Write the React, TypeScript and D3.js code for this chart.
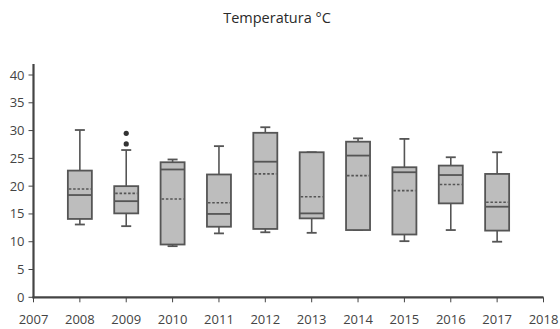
import React from "react";
import * as d3 from "d3";

const years = [2008, 2009, 2010, 2011, 2012, 2013, 2014, 2015, 2016, 2017];
const whiskerLow = [13.1, 12.8, 9.2, 11.5, 11.7, 11.6, 12.1, 10.1, 12.1, 10.0];
const q1 = [14.1, 15.1, 9.5, 12.7, 12.3, 14.2, 12.1, 11.3, 16.9, 12.0];
const median = [18.4, 17.3, 23.0, 15.0, 24.4, 15.1, 25.5, 22.5, 22.0, 16.3];
const mean = [19.5, 18.7, 17.7, 17.0, 22.2, 18.1, 21.9, 19.2, 20.3, 17.1];
const q3 = [22.8, 20.0, 24.3, 22.1, 29.6, 26.1, 28.0, 23.4, 23.7, 22.2];
const whiskerHigh = [30.1, 26.5, 24.8, 27.2, 30.6, 26.1, 28.6, 28.5, 25.2, 26.1];
const outlierYears = [2009, 2009];
const outlierValues = [29.5, 27.6];
const xTicks = [2007, 2008, 2009, 2010, 2011, 2012, 2013, 2014, 2015, 2016, 2017, 2018];
const yTicks = [0, 5, 10, 15, 20, 25, 30, 35, 40];
const title = "Temperatura °C";

const W = 560;
const H = 329;
const FONT = "'Open Sans', 'DejaVu Sans', sans-serif";

export default function App() {
  const x = d3.scaleLinear().domain([2007, 2018]).range([33.5, 543.5]);
  const y = d3.scaleLinear().domain([0, 40]).range([297.3, 75]);
  const boxW = 24;
  const capW = 10;
  const axisColor = "#444";
  const boxStroke = "#555";
  const fill = "#bdbdbd";

  return (
    <svg
      width={W}
      height={H}
      style={{ position: "absolute", left: 0, top: 0, background: "#fff" }}
    >
      <text
        x={277}
        y={23}
        textAnchor="middle"
        fontFamily={FONT}
        fontSize={14.5}
        fill="#2a2a2a"
      >
        {title}
      </text>

      {years.map((yr, i) => {
        const cx = x(yr);
        return (
          <g key={yr}>
            <line x1={cx} x2={cx} y1={y(whiskerHigh[i])} y2={y(q3[i])} stroke={boxStroke} strokeWidth={1.6} />
            <line x1={cx} x2={cx} y1={y(q1[i])} y2={y(whiskerLow[i])} stroke={boxStroke} strokeWidth={1.6} />
            <line x1={cx - capW / 2} x2={cx + capW / 2} y1={y(whiskerHigh[i])} y2={y(whiskerHigh[i])} stroke={boxStroke} strokeWidth={1.8} />
            <line x1={cx - capW / 2} x2={cx + capW / 2} y1={y(whiskerLow[i])} y2={y(whiskerLow[i])} stroke={boxStroke} strokeWidth={1.8} />
            <rect
              x={cx - boxW / 2}
              y={y(q3[i])}
              width={boxW}
              height={y(q1[i]) - y(q3[i])}
              fill={fill}
              stroke={boxStroke}
              strokeWidth={1.8}
            />
            <line x1={cx - boxW / 2} x2={cx + boxW / 2} y1={y(median[i])} y2={y(median[i])} stroke={boxStroke} strokeWidth={1.8} />
            <line
              x1={cx - boxW / 2 + 1}
              x2={cx + boxW / 2 - 1}
              y1={y(mean[i])}
              y2={y(mean[i])}
              stroke={boxStroke}
              strokeWidth={1.6}
              strokeDasharray="2.5,1.8"
            />
          </g>
        );
      })}

      {outlierYears.map((yr, i) => (
        <circle key={i} cx={x(yr)} cy={y(outlierValues[i])} r={2.6} fill="#333" />
      ))}

      <line x1={x(2007)} x2={x(2007)} y1={64} y2={y(0) + 1} stroke={axisColor} strokeWidth={2.2} />
      {yTicks.map((t) => (
        <g key={t}>
          <line x1={x(2007) - 5} x2={x(2007)} y1={y(t)} y2={y(t)} stroke={axisColor} strokeWidth={1} />
          <text
            x={x(2007) - 9}
            y={y(t)}
            dy="0.35em"
            textAnchor="end"
            fontFamily={FONT}
            fontSize={13}
            fill="#444"
          >
            {t}
          </text>
        </g>
      ))}

      <line x1={x(2007) - 1} x2={x(2018)} y1={y(0)} y2={y(0)} stroke={axisColor} strokeWidth={2.2} />
      {xTicks.map((t) => (
        <g key={t}>
          <line x1={x(t)} x2={x(t)} y1={y(0)} y2={y(0) + 5} stroke={axisColor} strokeWidth={1} />
          <text
            x={x(t)}
            y={y(0) + 27}
            textAnchor="middle"
            fontFamily={FONT}
            fontSize={13}
            fill="#444"
          >
            {t}
          </text>
        </g>
      ))}
    </svg>
  );
}
